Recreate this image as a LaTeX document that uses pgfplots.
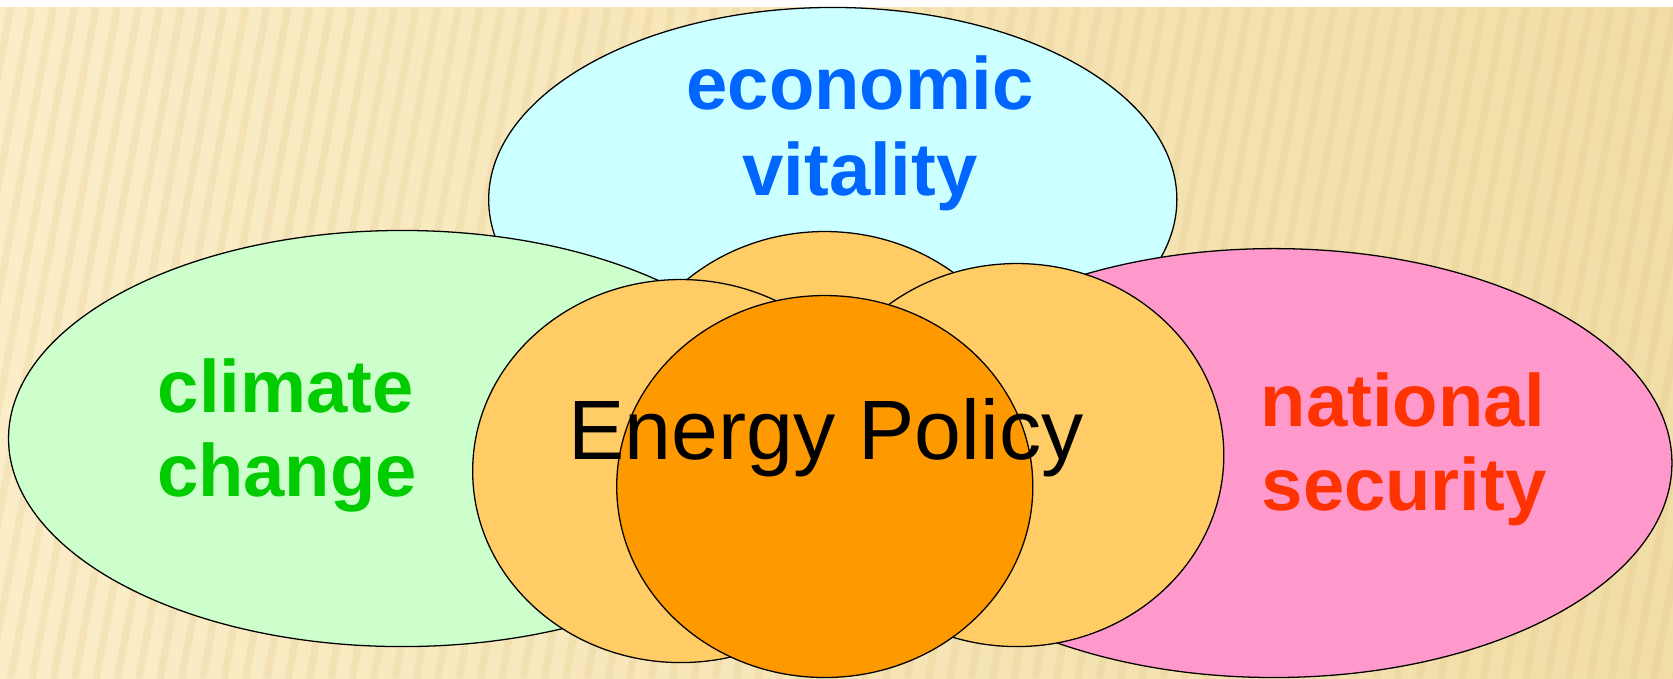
\documentclass[border=0pt]{standalone}
\usepackage{pgfplots}
\pgfplotsset{compat=1.18}
\usepackage{fontspec}
\setmainfont{Liberation Sans}
\definecolor{bgL}{HTML}{FBEDC8}
\definecolor{bgR}{HTML}{F1DDA6}
\definecolor{stripe}{HTML}{E0C585}
\definecolor{cyanF}{HTML}{CCFFFF}
\definecolor{greenF}{HTML}{CCFFCC}
\definecolor{pinkF}{HTML}{FF99CC}
\definecolor{lorange}{HTML}{FFCC66}
\definecolor{dorange}{HTML}{FF9900}
\definecolor{tblue}{HTML}{0066FF}
\definecolor{tgreen}{HTML}{00CC00}
\definecolor{tred}{HTML}{FF3300}
\begin{document}
\begin{tikzpicture}
\begin{axis}[width=784pt,height=318pt,scale only axis,
  xmin=0,xmax=1568,ymin=0,ymax=636,y dir=reverse,hide axis,clip=true]
% background
\fill[left color=bgL,right color=bgR] (axis cs:0,7) rectangle (axis cs:1568,636);
\fill[white] (axis cs:0,0) rectangle (axis cs:1568,7);
\pgfplotsinvokeforeach{-150,-130,...,1568}{
  \draw[stripe,line width=3.5pt,opacity=0.22] (axis cs:#1,636) -- (axis cs:#1+120,7);
}
% ellipses
\draw[fill=cyanF,line width=0.6pt] (axis cs:780.5,187) ellipse [x radius=322.5,y radius=180];
\draw[fill=greenF,line width=0.6pt] (axis cs:377,411) ellipse [x radius=369,y radius=195];
\draw[fill=pinkF,line width=0.6pt] (axis cs:1194,434) ellipse [x radius=373,y radius=201];
\draw[fill=lorange,line width=0.6pt] (axis cs:773,397) ellipse [x radius=195,y radius=180];
\draw[fill=lorange,line width=0.6pt] (axis cs:638,441.5) ellipse [x radius=195,y radius=179.5];
\draw[fill=lorange,line width=0.6pt] (axis cs:953,426.5) ellipse [x radius=194,y radius=179.5];
\draw[fill=dorange,line width=0.6pt] (axis cs:773,456) ellipse [x radius=195,y radius=179];
% labels
\node[anchor=base,text=tblue,font=\bfseries\fontsize{34.8}{40}\selectfont,inner sep=0pt] at (axis cs:806,103) {economic};
\node[anchor=base,text=tblue,font=\bfseries\fontsize{34.8}{40}\selectfont,inner sep=0pt] at (axis cs:806,183) {vitality};
\node[anchor=base,text=tgreen,font=\bfseries\fontsize{34.8}{40}\selectfont,inner sep=0pt] at (axis cs:268,387) {climate};
\node[anchor=base,text=tgreen,font=\bfseries\fontsize{34.8}{40}\selectfont,inner sep=0pt] at (axis cs:269,465) {change};
\node[anchor=base,text=tred,font=\bfseries\fontsize{34.8}{40}\selectfont,inner sep=0pt] at (axis cs:1315,400) {national};
\node[anchor=base,text=tred,font=\bfseries\fontsize{34.8}{40}\selectfont,inner sep=0pt] at (axis cs:1316,478) {security};
\node[anchor=base,text=black,font=\fontsize{39.5}{45}\selectfont,inner sep=0pt] at (axis cs:774,431) {Energy Policy};
\end{axis}
\pgfresetboundingbox
\useasboundingbox (current axis.south west) rectangle (current axis.north east);
\end{tikzpicture}
\end{document}
